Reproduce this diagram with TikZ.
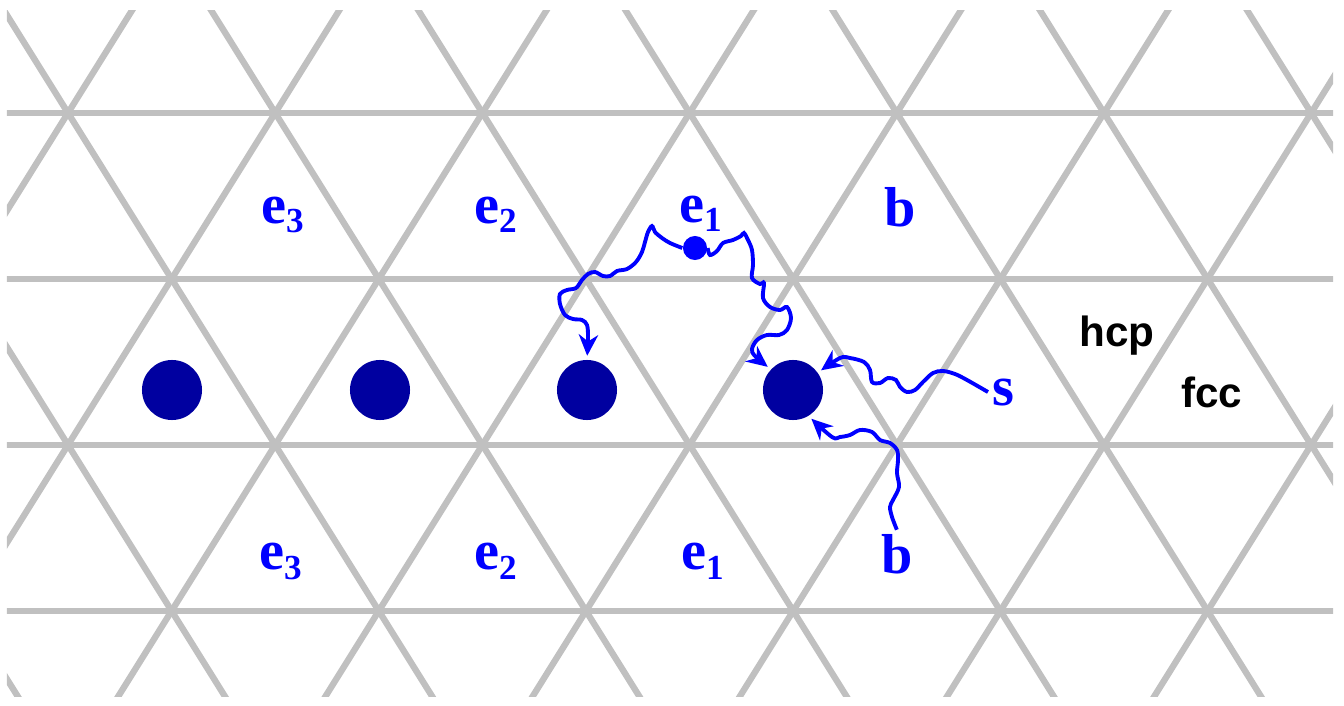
\documentclass[tikz,border=0pt]{standalone}
\usepackage{fontspec}
\setmainfont{Liberation Serif}
\newfontfamily\hfont{Liberation Sans}
\usetikzlibrary{arrows.meta}
\definecolor{gridgray}{RGB}{192,192,192}
\definecolor{navy}{RGB}{0,0,160}
\newcommand{\lsub}[1]{\raisebox{-2.8pt}{\fontsize{10}{11}\selectfont #1}}

\begin{document}
\begin{tikzpicture}[
    x=0.01cm, y=-0.01cm,
    gridline/.style={draw=gridgray, line width=1.8pt},
    atom/.style={circle, fill=navy, minimum size=0.6cm, inner sep=0pt},
    adatom/.style={circle, fill=blue, minimum size=0.24cm, inner sep=0pt},
    site/.style={text=blue, font=\fontsize{16}{18}\selectfont\bfseries, inner sep=1pt, anchor=base west},
    stack/.style={font=\hfont\fontsize{12}{14}\selectfont\bfseries, inner sep=1pt, anchor=base west},
    hop/.style={draw=blue, line width=1.1pt, -{Stealth[length=6pt,width=5.5pt]}, shorten >=1pt}
]
\useasboundingbox (0,0) rectangle (1344,706);
\begin{scope}
\clip (7,10) rectangle (1333,696);
\foreach \y in {113,279,445,611}
    \draw[gridline] (0,\y) -- (1344,\y);
\foreach \k in {-3,...,9} {
    \draw[gridline] ({68+207.2*\k-132.9},-100) -- ({68+207.2*\k+428.8},800);
    \draw[gridline] ({68+207.2*\k+132.9},-100) -- ({68+207.2*\k-428.8},800);
}
\end{scope}

\node[atom] (d1) at (172,390) {};
\node[atom] (d2) at (380,390) {};
\node[atom] (d3) at (587,390) {};
\node[atom] (d4) at (793,390) {};
\node[adatom] (e1dot) at (695,248) {};

\node[site] (e3t) at (257,223) {e\lsub{3}};
\node[site] (e2t) at (470,223) {e\lsub{2}};
\node[site] (e1t) at (675,222) {e\lsub{1}};
\node[site] (bt) at (880,226) {b};
\node[site] (e3b) at (255,570) {e\lsub{3}};
\node[site] (e2b) at (470,570) {e\lsub{2}};
\node[site] (e1b) at (677,570) {e\lsub{1}};
\node[site] (bb) at (877,573) {b};
\node[site] (s) at (988,405) {s};
\node[stack] (hcp) at (1075,347) {hcp};
\node[stack] (fcc) at (1177,407) {fcc};

\draw[hop] plot[smooth, tension=0.55] coordinates {(e1dot.west) (670,243) (662,238) (655,232) (652,226) (648,232) (645,242) (642,252) (636,262) (627,269) (617,271) (610,276) (603,276) (595,272) (588,274) (582,280) (576,288) (567,290) (560,294) (560,304) (565,315) (573,319) (582,320) (587,325) (588,337) (d3.north)};
\draw[hop] plot[smooth, tension=0.55] coordinates {(e1dot.east) (710,255) (717,251) (723,243) (733,240) (741,236) (744,233) (748,240) (752,250) (753,265) (752,278) (760,284) (764,283) (763,298) (770,307) (780,310) (787,307) (791,318) (787,330) (779,335) (767,335) (757,340) (752,349) (755,356) (d4.137)};
\draw[hop] plot[smooth, tension=0.55] coordinates {(s.west) (967,380) (955,374) (943,371) (933,373) (923,382) (915,390) (907,392) (900,387) (896,380) (888,378) (880,383) (872,382) (870,370) (864,362) (850,358) (840,358) (d4.35)};
\draw[hop] plot[smooth, tension=0.55] coordinates {(bb.north) (892,517) (890,507) (893,500) (899,487) (897,473) (898,460) (897,450) (890,443) (880,440) (872,432) (860,430) (850,435) (840,437) (832,437) (d4.-59)};
\end{tikzpicture}
\end{document}
